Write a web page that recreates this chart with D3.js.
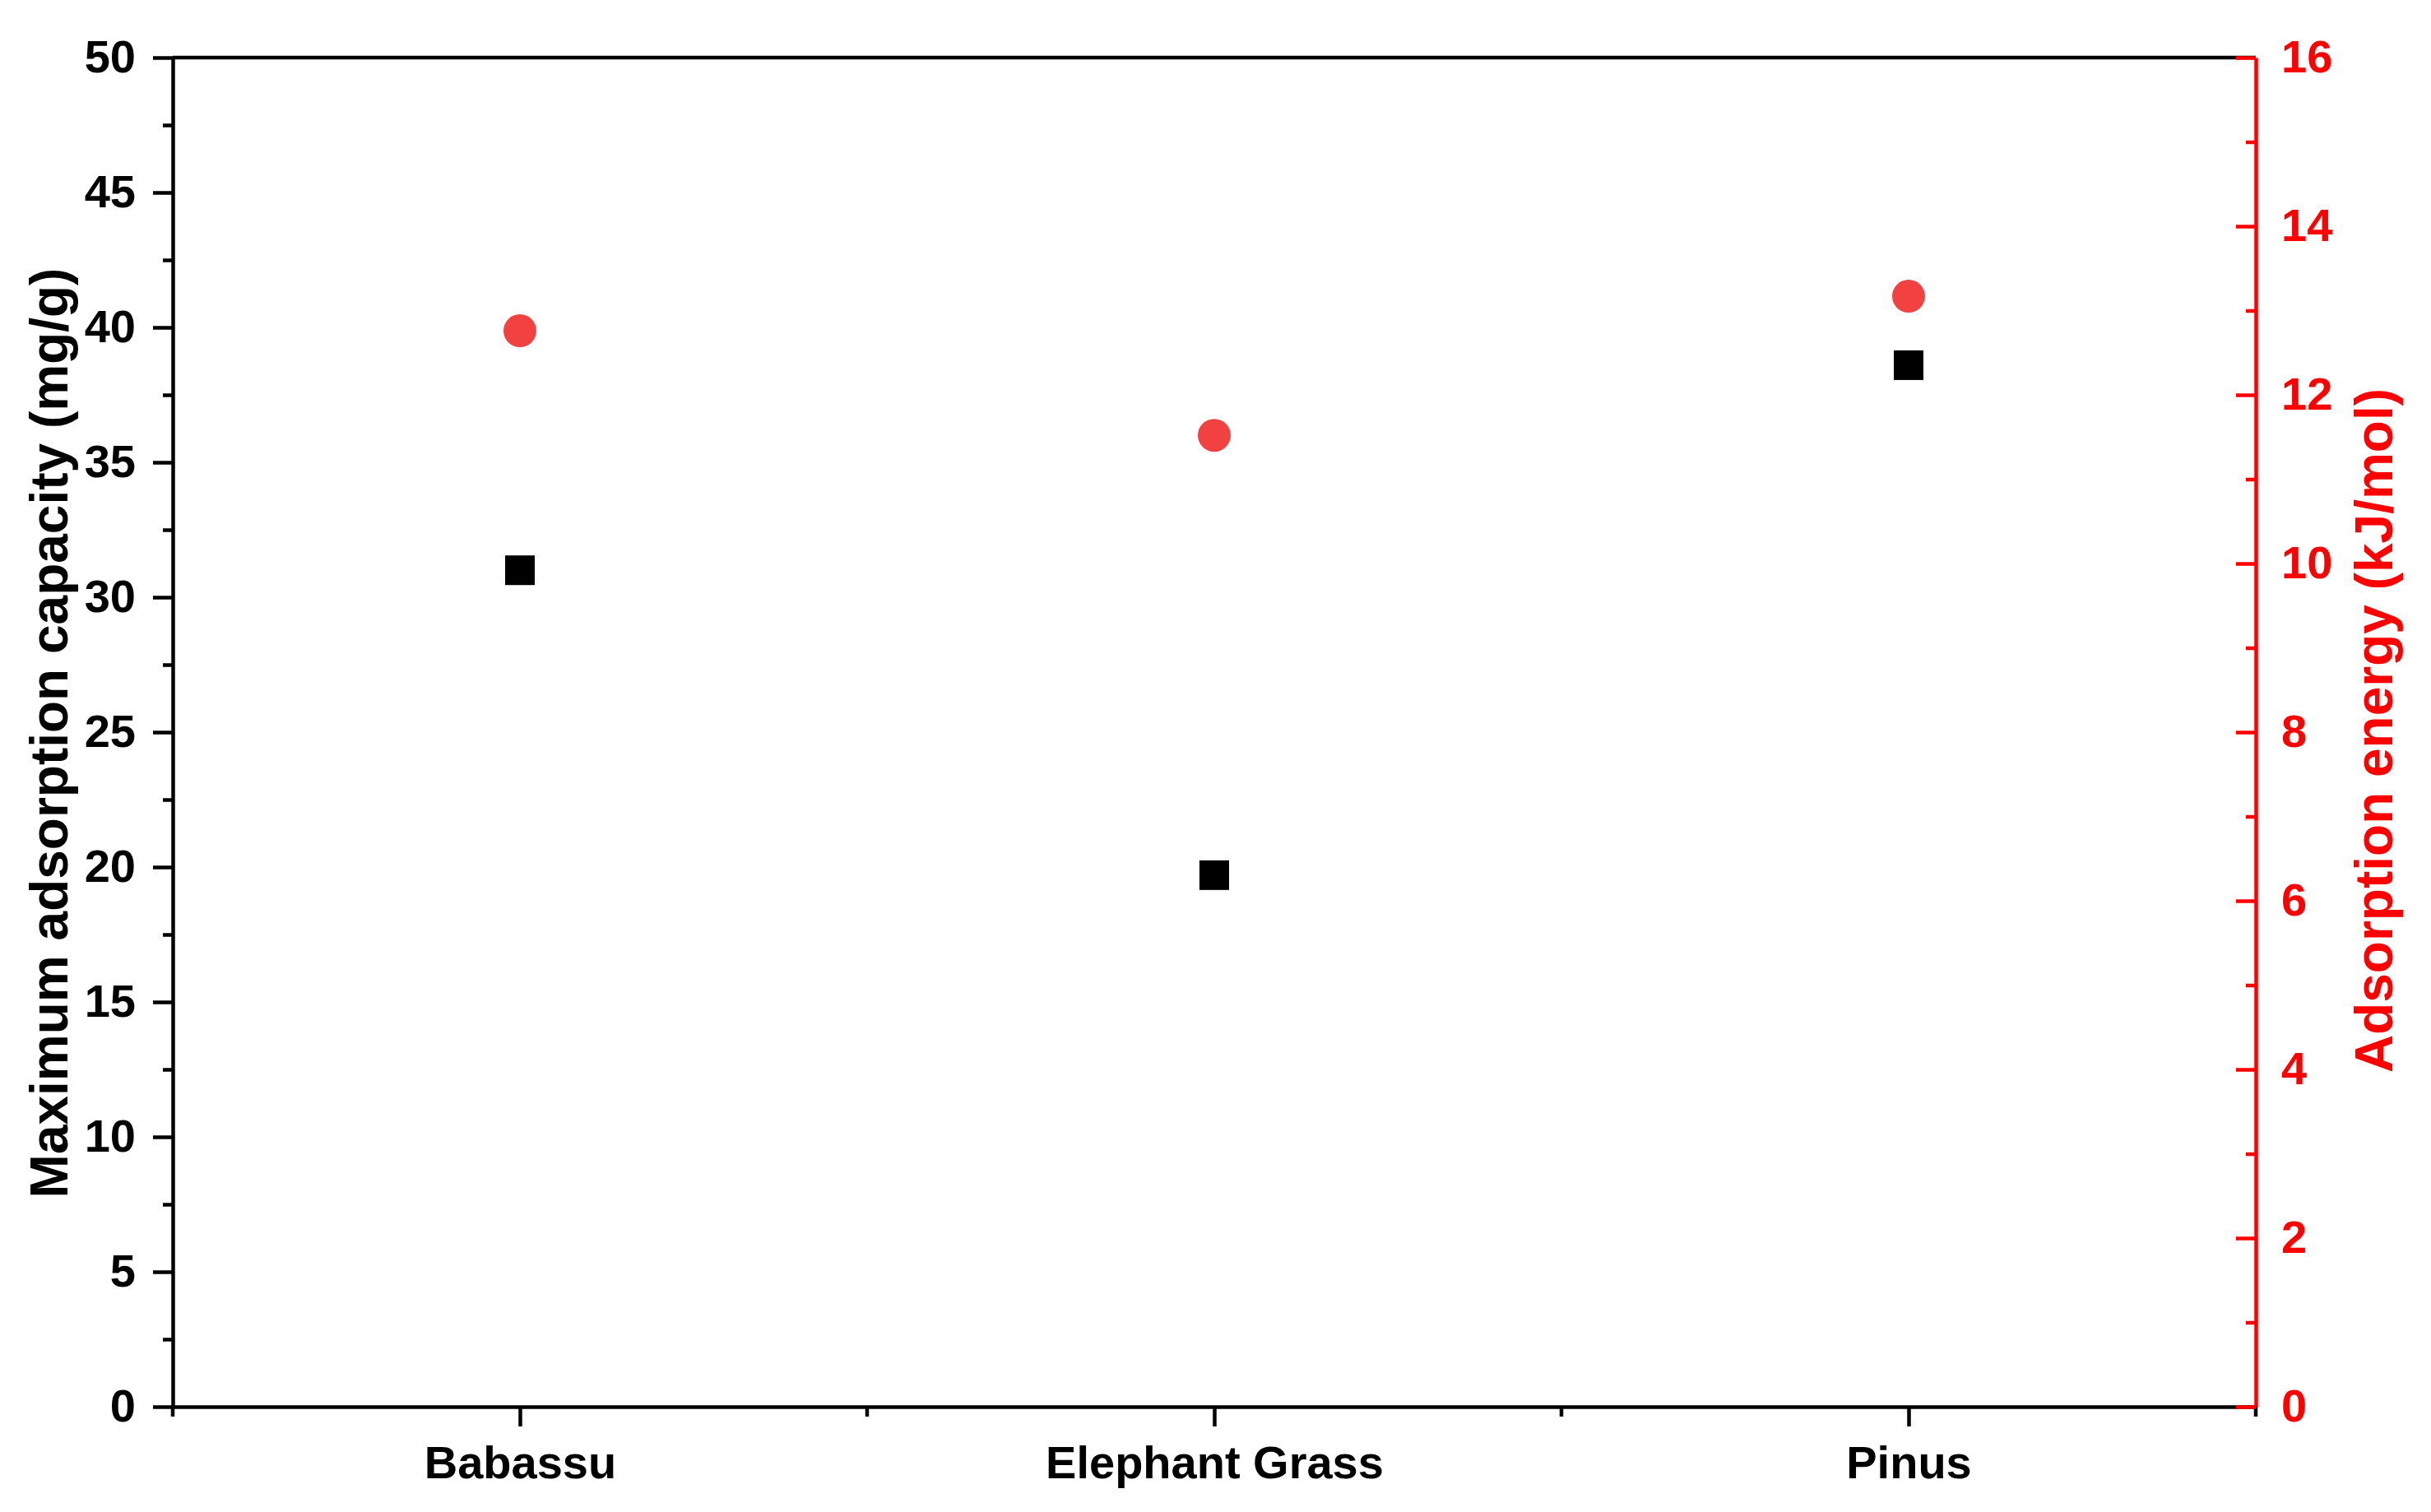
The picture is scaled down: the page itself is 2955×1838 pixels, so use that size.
<!DOCTYPE html>
<html>
<head>
<meta charset="utf-8">
<script src="https://cdn.jsdelivr.net/npm/d3@7"></script>
<style>
html,body{margin:0;padding:0;background:#fff;}
svg{display:block;}
text{font-family:"Liberation Sans",Arial,sans-serif;font-weight:bold;}
</style>
</head>
<body>
<svg id="chart" width="2955" height="1838"></svg>
<script>
const categories = ["Babassu", "Elephant Grass", "Pinus"];
const capacity = [31.0, 19.7, 38.6];      // mg/g (left axis, black squares)
const energy = [12.76, 11.52, 13.17];      // kJ/mol (right axis, red circles)
const leftTicks = [0, 5, 10, 15, 20, 25, 30, 35, 40, 45, 50];
const rightTicks = [0, 2, 4, 6, 8, 10, 12, 14, 16];
const leftTitle = "Maximum adsorption capacity (mg/g)";
const rightTitle = "Adsorption energy (kJ/mol)";

const W = 2955, H = 1838;
const m = {left: 210, right: 2742, top: 70, bottom: 1710};
const svg = d3.select("#chart");
const red = "#FF0000";
const fs = 56;
const lw = 4.5;

const x = d3.scalePoint().domain(categories).range([m.left, m.right]).padding(0.5);
const yL = d3.scaleLinear().domain([0, 50]).range([m.bottom, m.top]);
const yR = d3.scaleLinear().domain([0, 16]).range([m.bottom, m.top]);

// top border
svg.append("line").attr("x1", m.left).attr("x2", m.right).attr("y1", m.top).attr("y2", m.top)
  .attr("stroke", "#000").attr("stroke-width", lw);

// left axis
const gL = svg.append("g").attr("transform", `translate(${m.left},0)`)
  .call(d3.axisLeft(yL).tickValues(leftTicks).tickSize(24).tickSizeOuter(0).tickPadding(21).tickFormat(d3.format("d")));
// minor left
svg.append("g").attr("transform", `translate(${m.left},0)`)
  .call(d3.axisLeft(yL).tickValues(d3.range(2.5, 50, 5)).tickSize(12).tickSizeOuter(0).tickFormat(""))
  .select(".domain").remove();

// bottom axis
const gB = svg.append("g").attr("transform", `translate(0,${m.bottom})`)
  .call(d3.axisBottom(x).tickSize(24).tickSizeOuter(0).tickPadding(23));
const step = x.step();
const minorX = [m.left, m.left + step, m.left + 2 * step, m.right];
svg.append("g").selectAll("line").data(minorX).join("line")
  .attr("x1", d => d).attr("x2", d => d).attr("y1", m.bottom).attr("y2", m.bottom + 12)
  .attr("stroke", "#000").attr("stroke-width", lw);

// right axis (red, inward ticks)
const gR = svg.append("g").attr("transform", `translate(${m.right},0)`)
  .call(d3.axisRight(yR).tickValues(rightTicks).tickSize(-24).tickSizeOuter(0).tickPadding(31).tickFormat(d3.format("d")));
const gRm = svg.append("g").attr("transform", `translate(${m.right},0)`)
  .call(d3.axisRight(yR).tickValues(d3.range(1, 16, 2)).tickSize(-12).tickSizeOuter(0).tickFormat(""));
gRm.select(".domain").remove();

[gL, gB, gR, gRm].forEach(g => {
  g.selectAll("path.domain, line").attr("stroke-width", lw);
  g.selectAll("text").attr("font-size", fs).attr("font-family", "'Liberation Sans', Arial, sans-serif").attr("font-weight", "bold");
});
svg.selectAll("line").attr("stroke-width", lw);
gL.selectAll("text").attr("fill", "#000");
gB.selectAll("text").attr("fill", "#000");
gR.selectAll("path.domain, line").attr("stroke", red);
gRm.selectAll("line").attr("stroke", red);
gR.selectAll("text").attr("fill", red);

// axis titles
svg.append("text").attr("transform", `translate(60,891) rotate(-90)`)
  .attr("text-anchor", "middle").attr("dominant-baseline", "central")
  .attr("font-size", 64).attr("fill", "#000").text(leftTitle);
svg.append("text").attr("transform", `translate(2886,888) rotate(-90)`)
  .attr("text-anchor", "middle").attr("dominant-baseline", "central")
  .attr("font-size", 64).attr("fill", red).text(rightTitle);

// data
const sq = 36;
svg.append("g").selectAll("rect").data(categories).join("rect")
  .attr("x", (d, i) => x(d) - sq / 2).attr("y", (d, i) => yL(capacity[i]) - sq / 2)
  .attr("width", sq).attr("height", sq).attr("fill", "#000");
svg.append("g").selectAll("circle").data(categories).join("circle")
  .attr("cx", d => x(d)).attr("cy", (d, i) => yR(energy[i])).attr("r", 20)
  .attr("fill", "#F24141");
</script>
</body>
</html>
